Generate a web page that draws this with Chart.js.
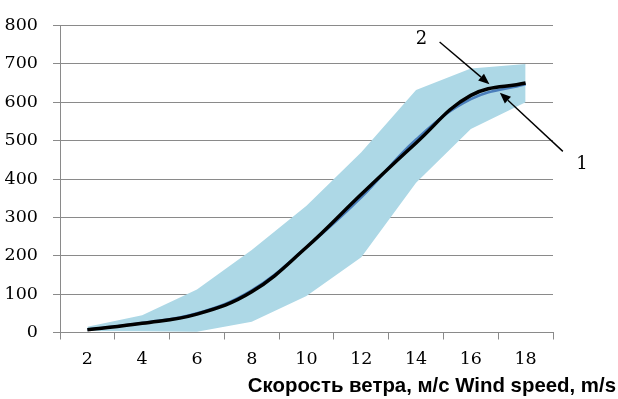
<!DOCTYPE html>
<html>
<head>
<meta charset="utf-8">
<script src="https://cdn.jsdelivr.net/npm/chart.js@4/dist/chart.umd.min.js"></script>
<style>
  html, body { margin: 0; padding: 0; background: #ffffff; }
  #wrap { width: 618px; height: 399px; }
</style>
</head>
<body>
<div id="wrap"><canvas id="c" width="618" height="399"></canvas></div>
<script>
// ---- data ----
const categories = ['2', '4', '6', '8', '10', '12', '14', '16', '18'];
const curve1 = [8, 25, 50, 110, 222, 352, 503, 608, 647];   // blue line (1)
const curve2 = [7, 24, 48, 106, 222, 360, 494, 618, 650];   // black line (2)
const bandLower = [4, 3, 2, 28, 95, 196, 390, 530, 600];
const bandUpper = [15, 45, 112, 215, 330, 470, 632, 688, 700];
const yMin = 0, yMax = 800, yStep = 100;
const axisTitle = 'Скорость ветра, м/с Wind speed, m/s';
// annotation labels and arrows (in data coordinates: category index, value)
const noteText = ['2', '1'];
const noteX = [6.10, 9.03];
const noteY = [765, 439];
const arrowFromX = [6.43, 8.68];
const arrowFromY = [757, 472];
const arrowToX = [7.34, 7.53];
const arrowToY = [647, 625];

const gridGray = '#8a8a8a';
const tickFont = { family: 'DejaVu Serif', size: 17.5 };

const notesPlugin = {
  id: 'notes',
  afterDraw(chart) {
    const ctx = chart.ctx;
    const xs = chart.scales.x, ys = chart.scales.y;
    ctx.save();
    ctx.strokeStyle = '#000';
    ctx.fillStyle = '#000';
    ctx.lineWidth = 1.4;
    for (let i = 0; i < arrowFromX.length; i++) {
      const x1 = xs.getPixelForValue(arrowFromX[i]), y1 = ys.getPixelForValue(arrowFromY[i]);
      const x2 = xs.getPixelForValue(arrowToX[i]), y2 = ys.getPixelForValue(arrowToY[i]);
      const ang = Math.atan2(y2 - y1, x2 - x1);
      const hl = 11, hw = 4.5;
      const bx = x2 - hl * Math.cos(ang), by = y2 - hl * Math.sin(ang);
      ctx.beginPath();
      ctx.moveTo(x1, y1);
      ctx.lineTo(bx, by);
      ctx.stroke();
      ctx.beginPath();
      ctx.moveTo(x2, y2);
      ctx.lineTo(bx + hw * Math.sin(ang), by - hw * Math.cos(ang));
      ctx.lineTo(bx - hw * Math.sin(ang), by + hw * Math.cos(ang));
      ctx.closePath();
      ctx.fill();
    }
    ctx.font = '18px "DejaVu Serif"';
    ctx.textAlign = 'center';
    ctx.textBaseline = 'middle';
    for (let i = 0; i < noteText.length; i++) {
      ctx.fillText(noteText[i], xs.getPixelForValue(noteX[i]), ys.getPixelForValue(noteY[i]));
    }
    ctx.font = 'bold 20.4px "Liberation Sans"';
    ctx.textAlign = 'right';
    ctx.textBaseline = 'alphabetic';
    ctx.fillText(axisTitle, chart.width - 2, 392);
    ctx.restore();
  }
};

new Chart(document.getElementById('c'), {
  type: 'line',
  data: {
    labels: categories,
    datasets: [
      { label: '2', data: curve2, borderColor: '#000000', borderWidth: 3.5,
        tension: 0.4, pointRadius: 0, fill: false },
      { label: '1', data: curve1, borderColor: '#4a7ebb', borderWidth: 2.5,
        tension: 0.4, pointRadius: 0, fill: false },
      { label: 'upper', data: bandUpper, borderWidth: 0, borderColor: 'rgba(0,0,0,0)',
        backgroundColor: '#add8e6', pointRadius: 0, tension: 0, fill: '+1' },
      { label: 'lower', data: bandLower, borderWidth: 0, borderColor: 'rgba(0,0,0,0)',
        pointRadius: 0, tension: 0, fill: false }
    ]
  },
  options: {
    responsive: false,
    animation: false,
    events: [],
    layout: { padding: { top: 18, right: 65, left: 0, bottom: 0 } },
    plugins: { legend: { display: false }, tooltip: { enabled: false }, title: { display: false } },
    scales: {
      x: {
        type: 'category',
        offset: true,
        grid: { offset: true, drawOnChartArea: false, drawTicks: true, tickLength: 7, color: gridGray },
        border: { color: gridGray },
        ticks: { font: tickFont, color: '#000', padding: 9, maxRotation: 0, autoSkip: false },
        afterFit(s) { s.height = 66.5; }
      },
      y: {
        min: yMin, max: yMax,
        grid: { color: gridGray, tickLength: 7 },
        border: { color: gridGray },
        ticks: { stepSize: yStep, font: tickFont, color: '#000', padding: 15 },
        afterFit(s) { s.width = 60; }
      }
    }
  },
  plugins: [notesPlugin]
});
</script>
</body>
</html>
